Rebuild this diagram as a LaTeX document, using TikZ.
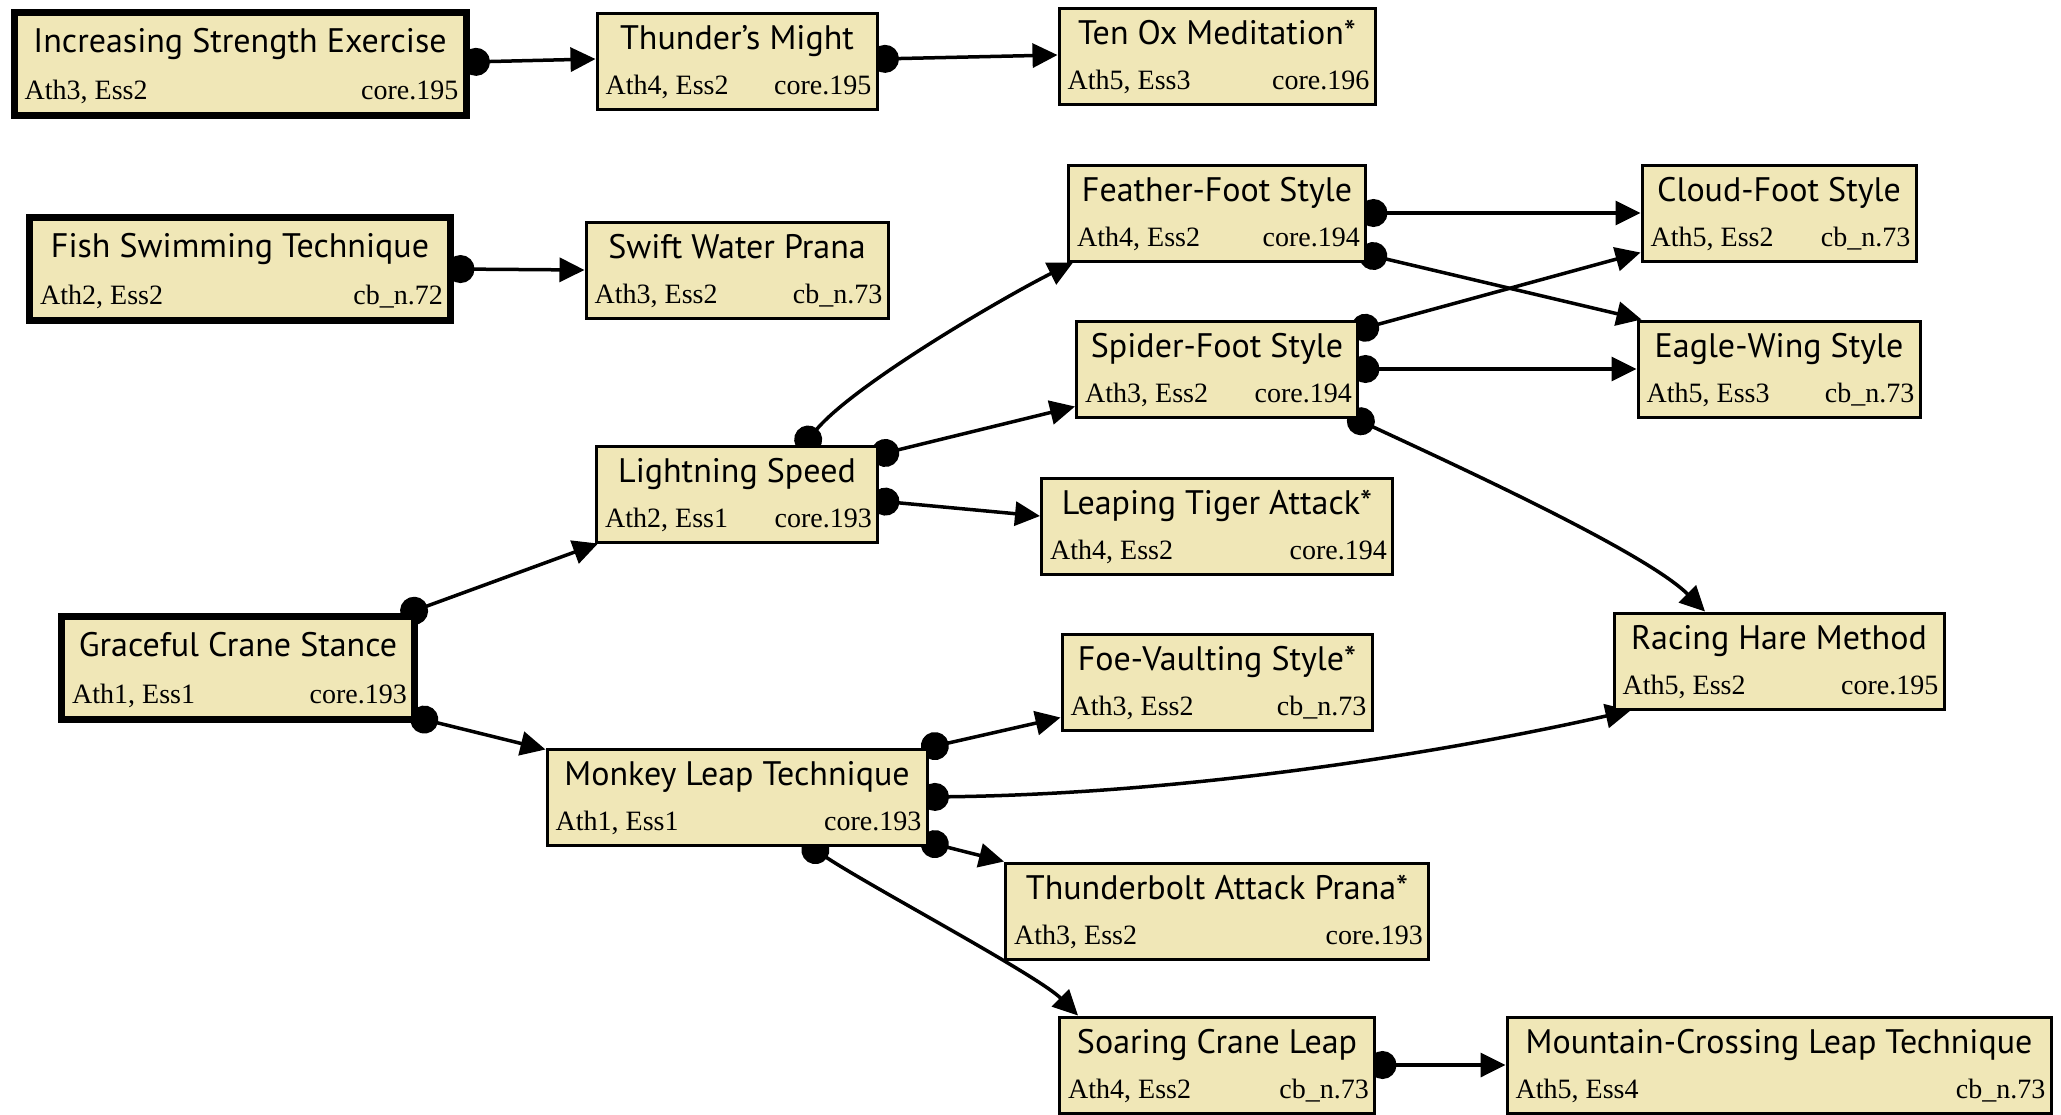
\documentclass[tikz,border=0pt]{standalone}
\usepackage{fontspec}
\setmainfont{Liberation Serif}
\newfontfamily\headfont{PT Sans}
\usetikzlibrary{arrows.meta,backgrounds}
\definecolor{scroll}{HTML}{F0E7B7}

\begin{document}
\begin{tikzpicture}[x=1pt, y=-1pt,
  box/.style={draw, fill=scroll, line width=3pt, minimum height=96pt, inner sep=0pt},
  heavybox/.style={box, line width=7pt, minimum height=103pt},
  head/.style={font=\headfont\fontsize{34}{36}\selectfont, anchor=base, inner sep=0pt},
  stat/.style={font=\fontsize{28}{30}\selectfont, inner sep=0pt},
  link/.style={line width=3.5pt, {Circle[length=28pt]}-{Triangle[length=25pt,width=24pt]}, shorten <=-7.5pt}]

\useasboundingbox (0,0) rectangle (2061,1114);

% starting charms, heavy frame
\foreach \n/\x/\y/\w/\ttl/\lft/\rgt in {
  ise/240/64/452/Increasing Strength Exercise/{Ath3, Ess2}/core.195,
  fst/240/269/421/Fish Swimming Technique/{Ath2, Ess2}/cb\_n.72,
  gcs/238/668/353/Graceful Crane Stance/{Ath1, Ess1}/core.193}
{
  \node[heavybox, minimum width=\w] (\n) at (\x,\y) {};
  \node[head] at ([yshift=-43pt]\n.north) {\ttl};
  \node[stat, anchor=base west] at ([xshift=14pt, yshift=20pt]\n.south west) {\lft};
  \node[stat, anchor=base east] at ([xshift=-11pt, yshift=20pt]\n.south east) {\rgt};
}

% everything else
\foreach \n/\x/\y/\w/\ttl/\lft/\rgt in {
  tm/737/61/280/Thunder’s Might/{Ath4, Ess2}/core.195,
  tox/1217/56/316/Ten Ox Meditation*/{Ath5, Ess3}/core.196,
  swp/737/270/302/Swift Water Prana/{Ath3, Ess2}/cb\_n.73,
  ffs/1217/213/297/Feather-Foot Style/{Ath4, Ess2}/core.194,
  cfs/1779/213/274/Cloud-Foot Style/{Ath5, Ess2}/cb\_n.73,
  sfs/1217/369/281/Spider-Foot Style/{Ath3, Ess2}/core.194,
  ews/1779/369/282/Eagle-Wing Style/{Ath5, Ess3}/cb\_n.73,
  ls/737/494/281/Lightning Speed/{Ath2, Ess1}/core.193,
  lta/1217/526/351/Leaping Tiger Attack*/{Ath4, Ess2}/core.194,
  rhm/1779/661/330/Racing Hare Method/{Ath5, Ess2}/core.195,
  fvs/1217/682/310/Foe-Vaulting Style*/{Ath3, Ess2}/cb\_n.73,
  mlt/737/797/380/Monkey Leap Technique/{Ath1, Ess1}/core.193,
  tap/1217/911/423/Thunderbolt Attack Prana*/{Ath3, Ess2}/core.193,
  scl/1217/1065/315/Soaring Crane Leap/{Ath4, Ess2}/cb\_n.73,
  mclt/1779/1065/544/Mountain-Crossing Leap Technique/{Ath5, Ess4}/cb\_n.73}
{
  \node[box, minimum width=\w] (\n) at (\x,\y) {};
  \node[head] at ([yshift=-38pt]\n.north) {\ttl};
  \node[stat, anchor=base west] at ([xshift=10pt, yshift=16pt]\n.south west) {\lft};
  \node[stat, anchor=base east] at ([xshift=-7pt, yshift=16pt]\n.south east) {\rgt};
}

% the links sit behind the boxes
\begin{pgfonlayer}{background}
% top chains
\draw[link] ([yshift=2pt]ise.east) -- ([yshift=2pt]tm.west);
\draw[link] ([yshift=2pt]tm.east) -- ([yshift=1pt]tox.west);
\draw[link] (fst.east) -- (swp.west);

% out of the crane stance
\draw[link] ([xshift=-10pt]gcs.north east) -- ([xshift=3pt]ls.south west);
\draw[link] ([yshift=5pt]gcs.south east) -- ([yshift=-2pt]mlt.north west);

% out of lightning speed
\draw[link] ([xshift=67pt]ls.north) .. controls +(50,-60) and +(-70,35) .. ([xshift=6pt]ffs.south west);
\draw[link] ([yshift=-10pt]ls.north east) -- ([yshift=12pt]sfs.south west);
\draw[link] ([yshift=-7pt]ls.east) -- ([yshift=10pt]lta.west);

% foot styles
\draw[link] (ffs.east) -- (cfs.west);
\draw[link] ([yshift=8pt]ffs.south east) -- ([xshift=5pt]ews.north west);
\draw[link] ([yshift=-10pt]sfs.north east) -- ([yshift=10pt]cfs.south west);
\draw[link] (sfs.east) -- (ews.west);
\draw[link] ([xshift=-4pt]sfs.south east) .. controls +(90,42) and +(-60,-60) .. ([xshift=-74pt]rhm.north);

% out of monkey leap
\draw[link] (mlt.north east) -- ([yshift=14pt]fvs.south west);
\draw[link] (mlt.east) .. controls +(250,-3) and +(-200,45) .. ([xshift=18pt]rhm.south west);
\draw[link] ([yshift=4pt]mlt.south east) -- (tap.north west);
\draw[link] ([xshift=73pt]mlt.south) .. controls +(60,40) and +(-40,-40) .. ([xshift=-139pt]scl.north);
\draw[link] (scl.east) -- (mclt.west);
\end{pgfonlayer}
\end{tikzpicture}
\end{document}
